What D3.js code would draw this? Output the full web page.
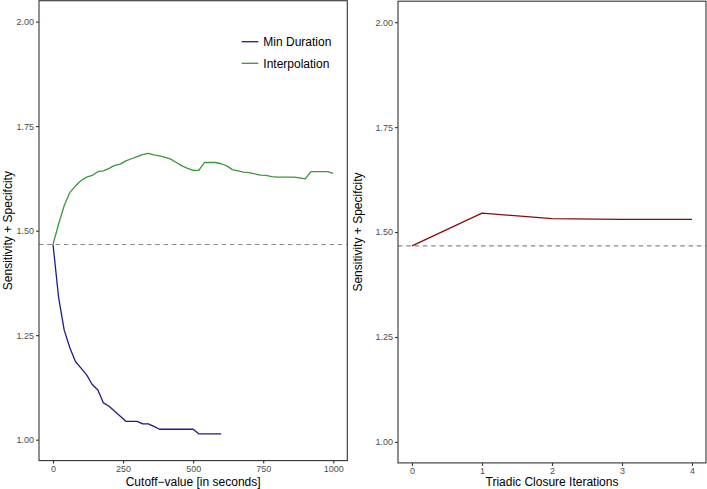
<!DOCTYPE html>
<html><head><meta charset="utf-8">
<script src="https://cdn.jsdelivr.net/npm/d3@7"></script>
<style>body{margin:0;background:#fff}svg{display:block}</style>
</head><body>
<svg id="c" width="707" height="489"></svg>
<script>
// ---- data ----
const minDurX = [0,20,40,60,80,100,120,140,160,180,200,220,240,260,280,300,320,340,360,380,400,420,440,460,480,500,520,540,560,580,600];
const minDurY = [1.467,1.340,1.262,1.220,1.187,1.171,1.155,1.132,1.119,1.088,1.080,1.068,1.056,1.044,1.044,1.044,1.038,1.038,1.032,1.025,1.025,1.025,1.025,1.025,1.025,1.025,1.014,1.014,1.014,1.014,1.014];
const interpX = [0,20,40,60,80,100,120,140,160,180,200,220,240,260,280,300,320,340,360,380,400,420,440,460,480,500,520,540,560,580,600,620,640,660,680,700,720,740,760,780,800,820,840,860,880,900,920,940,960,980,1000];
const interpY = [1.467,1.516,1.560,1.591,1.607,1.620,1.628,1.632,1.641,1.643,1.649,1.656,1.659,1.667,1.672,1.677,1.682,1.685,1.681,1.679,1.675,1.671,1.663,1.655,1.649,1.644,1.644,1.663,1.663,1.663,1.660,1.655,1.646,1.643,1.640,1.639,1.636,1.633,1.632,1.629,1.628,1.628,1.628,1.628,1.626,1.624,1.641,1.641,1.641,1.641,1.637];
const triadX = [0,1,2,3,4];
const triadY = [1.467,1.545,1.532,1.530,1.530];
const baseline = 1.467;
const yTicks = [1.00,1.25,1.50,1.75,2.00];
const xTicksLeft = [0,250,500,750,1000];
const xTicksRight = [0,1,2,3,4];
const seriesNames = ["Min Duration","Interpolation"];
const seriesColors = ["#1c1c8a","#3a973a"];
const triadColor = "#8b0a0a";

const svg = d3.select("#c");
const FONT = "Liberation Sans, Arial, Helvetica, sans-serif";

function panel(opts){
  const {x0,x1,y0,y1,xDom,xTicks,xTitle,yTitleX} = opts;
  const x = d3.scaleLinear().domain(xDom).range([x0,x1]);
  const y = d3.scaleLinear().domain([0.95,2.05]).range([y1,y0]);
  const g = svg.append("g");
  g.append("line").attr("x1",x0).attr("x2",x1).attr("y1",y(baseline)).attr("y2",y(baseline))
    .attr("stroke","#8a8a8a").attr("stroke-width",1.1).attr("stroke-dasharray","4.5,3.8");
  const ya = d3.axisLeft(y).tickValues(yTicks).tickFormat(d3.format(".2f")).tickSize(3).tickPadding(2);
  const yg = g.append("g").attr("transform",`translate(${x0},0)`).call(ya);
  const xa = d3.axisBottom(x).tickValues(xTicks).tickFormat(d3.format("d")).tickSize(3).tickPadding(2);
  const xg = g.append("g").attr("transform",`translate(0,${y1})`).call(xa);
  [yg,xg].forEach(a=>{
    a.select(".domain").remove();
    a.selectAll(".tick line").attr("stroke","#333").attr("stroke-width",1.1);
    a.selectAll(".tick text").attr("fill","#4d4d4d").style("font-size","9px").style("font-family",FONT);
  });
  g.append("rect").attr("x",x0).attr("y",y0).attr("width",x1-x0).attr("height",y1-y0)
    .attr("fill","none").attr("stroke","#333").attr("stroke-width",1.1);
  g.append("text").attr("x",(x0+x1)/2).attr("y",486).attr("text-anchor","middle")
    .style("font-size","12px").style("font-family",FONT).attr("fill","#000").text(xTitle);
  g.append("text").attr("transform",`translate(${yTitleX},${(y0+y1)/2}) rotate(-90)`).attr("text-anchor","middle")
    .style("font-size","12px").style("font-family",FONT).attr("fill","#000").text("Sensitivity + Specifcity");
  return {x,y,g};
}

const L = panel({x0:39,x1:347.3,y0:0.7,y1:460.6,xDom:[-50,1050],xTicks:xTicksLeft,xTitle:"Cutoff\u2212value [in seconds]",yTitleX:11.5});
const R = panel({x0:398,x1:706,y0:1.2,y1:462.9,xDom:[-0.2,4.2],xTicks:xTicksRight,xTitle:"Triadic Closure Iterations",yTitleX:362});

function drawLine(p,xs,ys,color){
  const line = d3.line().x(d=>p.x(d[0])).y(d=>p.y(d[1]));
  p.g.append("path").datum(xs.map((v,i)=>[v,ys[i]])).attr("d",line)
    .attr("fill","none").attr("stroke",color).attr("stroke-width",1.3).attr("stroke-linejoin","round");
}
drawLine(L,interpX,interpY,seriesColors[1]);
drawLine(L,minDurX,minDurY,seriesColors[0]);
drawLine(R,triadX,triadY,triadColor);

const leg = L.g.append("g");
seriesNames.forEach((n,i)=>{
  const yy = 41.7 + i*21.6;
  leg.append("line").attr("x1",241.7).attr("x2",258.3).attr("y1",yy).attr("y2",yy)
    .attr("stroke",seriesColors[i]).attr("stroke-width",1.3);
  leg.append("text").attr("x",263.3).attr("y",yy).attr("dy","0.35em")
    .style("font-size","12px").style("font-family",FONT).attr("fill","#000").text(n);
});
</script>
</body></html>
